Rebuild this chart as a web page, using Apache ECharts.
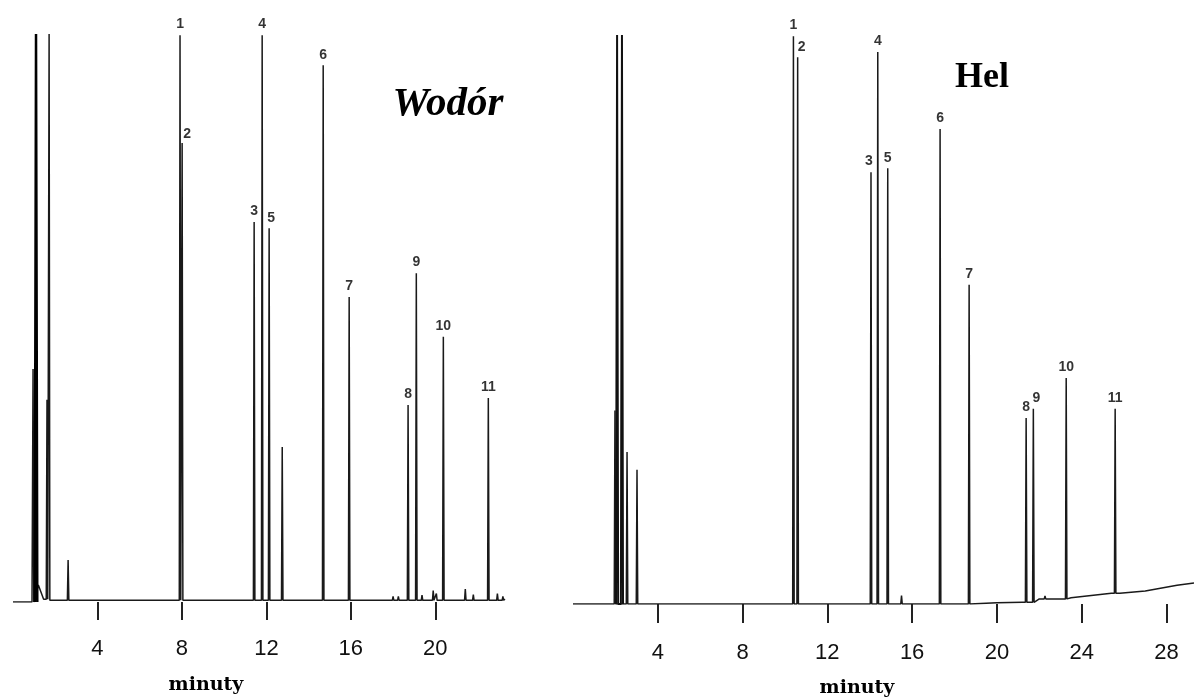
<!DOCTYPE html>
<html lang="pl">

<head>
    <meta charset="UTF-8">
    <meta name="viewport" content="width=device-width, initial-scale=1.0">
    <script src="https://cdn.jsdelivr.net/npm/echarts@6/dist/echarts.min.js"></script>
    <title>Wodór / Hel</title>
    <style>
        html, body { margin: 0; padding: 0; background: #fff; }
    </style>
</head>

<body>
    <div id="main" style="width: 1194px; height: 697px;"></div>

    <script>
        // numbered peaks, retention time (min) and height (% of full scale)
        var leftPeakNo = ['1', '2', '3', '4', '5', '6', '7', '8', '9', '10', '11'];
        var leftPeakTime = [7.91, 8.01, 11.42, 11.80, 12.13, 14.69, 15.92, 18.71, 19.10, 20.38, 22.51];
        var leftPeakHeight = [99.8, 80.8, 66.9, 99.8, 65.8, 94.5, 53.7, 34.7, 57.9, 46.7, 35.9];

        // unlabelled small peaks and noise
        var leftMinorTime = [0.95, 1.61, 1.71, 2.61, 12.75, 18.0, 18.25, 19.37, 19.9, 20.05, 21.42, 21.8, 22.94, 23.2];
        var leftMinorHeight = [41, 35.6, 100, 7.4, 27.3, 1.0, 1.0, 1.2, 2.0, 1.5, 2.3, 1.3, 1.5, 1.0];

        // solvent (off scale)
        var leftSolventTime = [1.09];
        var leftSolventHeight = [100];

        var leftBaseTime = [0, 0.9, 1.2, 1.45, 1.65, 17.5, 23.3];
        var leftBaseLevel = [0, 0, 3, 0.5, 0.3, 0.3, 0.5];

        var rightPeakNo = ['1', '2', '3', '4', '5', '6', '7', '8', '9', '10', '11'];
        var rightPeakTime = [10.40, 10.60, 14.06, 14.38, 14.85, 17.32, 18.69, 21.38, 21.72, 23.27, 25.58];
        var rightPeakHeight = [99.8, 96.1, 75.9, 97.0, 76.6, 83.5, 56.1, 32.7, 34.3, 39.7, 34.3];

        var rightMinorTime = [1.98, 2.55, 3.02, 15.5, 22.27];
        var rightMinorHeight = [34, 26.7, 23.6, 1.5, 1.4];

        var rightSolventTime = [2.08, 2.31];
        var rightSolventHeight = [100, 100];

        var rightBaseTime = [0, 1.8, 3.3, 20, 21.2, 22.0, 23.5, 25.4, 25.8, 27, 28.5, 29.3];
        var rightBaseLevel = [0, 0, 0, 0.2, 0.3, 0.9, 1.1, 1.9, 1.9, 2.3, 3.3, 3.7];

        var leftTicks = [4, 8, 12, 16, 20];
        var rightTicks = [4, 8, 12, 16, 20, 24, 28];

        function levelAt(baseT, baseV, t) {
            var v = baseV[0];
            for (var i = 0; i < baseT.length; i++) {
                if (baseT[i] <= t) v = baseV[i];
            }
            return v;
        }

        // baseline points plus a narrow spike for every peak
        function buildTrace(baseT, baseV, peakT, peakV, hw) {
            var pts = baseT.map(function (t, i) { return [t, baseV[i]]; });
            peakT.forEach(function (t, i) {
                var b = levelAt(baseT, baseV, t);
                pts.push([t - hw, b], [t, peakV[i]], [t + hw, b]);
            });
            pts.sort(function (a, b) { return a[0] - b[0]; });
            return pts;
        }

        function spikesOnly(baseT, baseV, peakT, peakV, hw) {
            var pts = [];
            peakT.forEach(function (t, i) {
                var b = levelAt(baseT, baseV, t);
                pts.push([t - hw, b], [t, peakV[i]], [t + hw, b]);
            });
            return pts;
        }

        // small nudges for labels that sit beside their peak
        var leftNudge = { '2': [5, 2], '5': [2, 0] };
        var rightNudge = { '2': [4, 0], '3': [-2, 0], '9': [3, 0] };

        function labelData(names, times, heights, nudge) {
            return names.map(function (n, i) {
                var item = { value: [times[i], heights[i]], name: n };
                if (nudge[n]) item.label = { offset: nudge[n] };
                return item;
            });
        }

        var lineColor = '#1a1a1a';
        var axisFont = 'Liberation Sans, Arial, sans-serif';

        function xAxisCfg(gridIndex, max, ticks, offset, tickLen, margin) {
            return {
                type: 'value',
                gridIndex: gridIndex,
                min: 0,
                max: max,
                interval: 4,
                offset: offset,
                axisLine: { show: false },
                splitLine: { show: false },
                axisTick: {
                    show: true,
                    length: tickLen,
                    customValues: ticks,
                    lineStyle: { color: '#222', width: 2 }
                },
                axisLabel: {
                    customValues: ticks,
                    margin: margin,
                    fontSize: 22,
                    fontFamily: axisFont,
                    color: '#111'
                }
            };
        }

        function labelSeries(xi, data) {
            return {
                type: 'scatter',
                xAxisIndex: xi,
                yAxisIndex: xi,
                symbolSize: 1,
                itemStyle: { color: 'rgba(0,0,0,0)' },
                silent: true,
                label: {
                    show: true,
                    position: 'top',
                    distance: 3,
                    formatter: '{b}',
                    fontSize: 14,
                    fontWeight: 'bold',
                    fontFamily: axisFont,
                    color: '#000'
                },
                data: data
            };
        }

        var hw = 0.035;

        var chart = echarts.init(document.getElementById('main'));
        var option = {
            animation: false,
            backgroundColor: '#fff',
            grid: [
                { left: 13, top: 34, width: 492, height: 568 },
                { left: 573, top: 35, width: 621, height: 569 }
            ],
            xAxis: [
                xAxisCfg(0, 23.3, leftTicks, 13, 18, 23),
                xAxisCfg(1, 29.3, rightTicks, 14, 19, 24)
            ],
            yAxis: [
                { type: 'value', gridIndex: 0, min: 0, max: 100, show: false },
                { type: 'value', gridIndex: 1, min: 0, max: 100, show: false }
            ],
            graphic: [
                {
                    type: 'text', x: 448, y: 104,
                    style: {
                        text: 'Wodór', textAlign: 'center', textVerticalAlign: 'middle',
                        font: 'italic bold 41px "Liberation Serif", "Times New Roman", serif', fill: '#000'
                    }
                },
                {
                    type: 'text', x: 982, y: 78,
                    style: {
                        text: 'Hel', textAlign: 'center', textVerticalAlign: 'middle',
                        font: 'bold 36px "Liberation Serif", "Times New Roman", serif', fill: '#000'
                    }
                },
                {
                    type: 'text', x: 206, y: 685,
                    style: {
                        text: 'minuty', textAlign: 'center', textVerticalAlign: 'middle',
                        font: 'bold 19px "DejaVu Serif", serif', fill: '#000'
                    }
                },
                {
                    type: 'text', x: 857, y: 688,
                    style: {
                        text: 'minuty', textAlign: 'center', textVerticalAlign: 'middle',
                        font: 'bold 19px "DejaVu Serif", serif', fill: '#000'
                    }
                }
            ],
            series: [
                {
                    type: 'line',
                    xAxisIndex: 0,
                    yAxisIndex: 0,
                    showSymbol: false,
                    clip: true,
                    lineStyle: { color: lineColor, width: 1.5 },
                    data: buildTrace(leftBaseTime, leftBaseLevel,
                        leftPeakTime.concat(leftMinorTime), leftPeakHeight.concat(leftMinorHeight), hw)
                },
                {
                    type: 'line',
                    xAxisIndex: 0,
                    yAxisIndex: 0,
                    showSymbol: false,
                    clip: true,
                    lineStyle: { color: '#000', width: 2.5 },
                    data: spikesOnly(leftBaseTime, leftBaseLevel, leftSolventTime, leftSolventHeight, 0.06)
                },
                labelSeries(0, labelData(leftPeakNo, leftPeakTime, leftPeakHeight, leftNudge)),
                {
                    type: 'line',
                    xAxisIndex: 1,
                    yAxisIndex: 1,
                    showSymbol: false,
                    clip: true,
                    lineStyle: { color: lineColor, width: 1.5 },
                    data: buildTrace(rightBaseTime, rightBaseLevel,
                        rightPeakTime.concat(rightMinorTime), rightPeakHeight.concat(rightMinorHeight), hw)
                },
                {
                    type: 'line',
                    xAxisIndex: 1,
                    yAxisIndex: 1,
                    showSymbol: false,
                    clip: true,
                    lineStyle: { color: '#111', width: 2 },
                    data: spikesOnly(rightBaseTime, rightBaseLevel, rightSolventTime, rightSolventHeight, 0.05)
                },
                labelSeries(1, labelData(rightPeakNo, rightPeakTime, rightPeakHeight, rightNudge))
            ]
        };
        chart.setOption(option);
    </script>
</body>

</html>
